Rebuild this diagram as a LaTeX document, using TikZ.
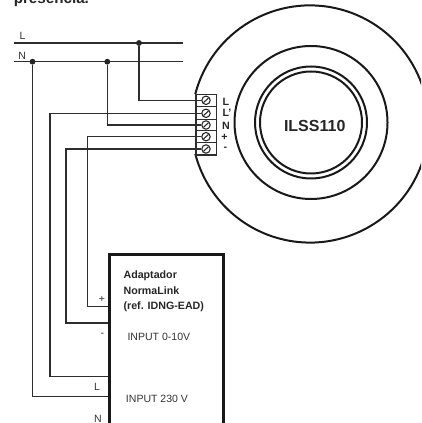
\documentclass[tikz,border=0pt]{standalone}
\usepackage{fontspec}
\setmainfont{Liberation Sans}
\begin{document}
\begin{tikzpicture}[x=0.75pt,y=-0.75pt,
  ink/.style={draw=black!82},
  wire/.style={ink,line width=1pt},
  ring/.style={draw=black!90,line width=1.5pt},
  dotnode/.style={circle,fill=black!85,inner sep=0pt,minimum size=4.4pt},
  lab/.style={inner sep=0pt,font=\fontsize{7.9pt}{9pt}\selectfont,text=black!80},
  blab/.style={inner sep=0pt,font=\fontsize{8pt}{9pt}\selectfont\bfseries,text=black!85},
  tlab/.style={inner sep=0pt,font=\fontsize{8pt}{9pt}\selectfont\bfseries,text=black!85},
  term/.style={ink,line width=0.9pt},
  screw/.style={circle,draw=black!85,line width=0.8pt,minimum size=6.3pt,inner sep=0pt}]
\useasboundingbox (0,0) rectangle (421,423);
\begin{scope}
\clip (0,0) rectangle (421,423);
\node[inner sep=0pt,anchor=base west,font=\fontsize{11.4pt}{12pt}\selectfont\bfseries,text=black!85] (cap) at (13.5,3.5) {presencia.};
% sensor
\draw[ring] (195.3,94) arc[start angle=194.65,end angle=525.35,radius=118.6];
\draw[ring] (311,122.5) circle[radius=76.5];
\draw[ring] (311,122.5) circle[radius=56];
\draw[ring] (311,122.5) circle[radius=51];
\node[inner sep=0pt,font=\fontsize{12pt}{13pt}\selectfont\bfseries,text=black!85] (name) at (314.7,125.7) {ILSS110};
% terminal block
\draw[term] (196,94.3) rectangle (216.7,155);
\foreach \y in {106.7,119.3,130.7,142.3}{\draw[term] (196,\y) -- (216.7,\y);}
\foreach \n/\y in {a/100.3,b/113.3,c/125,d/136.7,e/149}{
  \node[screw] (s\n) at (206,\y) {};
  \draw[black!85,line width=0.8pt] (203.6,\y+2.2) -- (208.4,\y-2.2);
}
\node[tlab] (tL) at (226,101.7) {L};
\node[tlab] (tLp) at (227,113) {L'};
\node[tlab] (tN) at (226,125.7) {N};
\node[tlab] (tP) at (224.5,137) {+};
\node[tlab] (tM) at (225.5,149) {-};
% mains
\coordinate (L0) at (14,43); \coordinate (L1) at (182.7,43);
\coordinate (N0) at (14,61.7); \coordinate (N1) at (182.7,61.7);
\draw[wire] (L0) -- (L1);
\draw[wire] (N0) -- (N1);
\node[lab] (lL) at (22.5,36) {L};
\node[lab] (lN) at (22.3,55.5) {N};
\node[dotnode] (dL) at (139,43) {};
\node[dotnode] (dN1) at (107.3,61.7) {};
\node[dotnode] (dN2) at (32.5,61.7) {};
% adapter
\draw[draw=black!90,line width=2.3pt] (109.3,423) -- (109.3,254.2) -- (223.5,254.2) -- (223.5,423);
\node[blab,anchor=base west] (a1) at (123.3,278.7) {Adaptador};
\node[blab,anchor=base west] (a2) at (123.3,294) {NormaLink};
\node[blab,anchor=base west] (a3) at (123.3,309) {(ref. IDNG-EAD)};
\node[lab,anchor=base west] (i1) at (127.3,340) {INPUT 0-10V};
\node[lab,anchor=base west] (i2) at (125.7,402) {INPUT 230 V};
\node[lab] (pl) at (102,299) {+};
\node[lab] (mi) at (102.3,335) {-};
\node[lab] (la) at (97,387) {L};
\node[lab] (na) at (98,419) {N};
% wires
\draw[wire] (dL) -- (139,100.3) -- (sa);
\draw[wire] (dN1) -- (107.3,125) -- (sc);
\draw[wire] (dN2) -- (32.5,396.7) -- (108,396.7);
\draw[wire] (sb) -- (50,113.3) -- (50,376.7) -- (108,376.7);
\draw[wire] (sd) -- (87.7,136.7) -- (87.7,306.7) -- (108,306.7);
\draw[wire] (se) -- (66,149) -- (66,323) -- (108,323);
\end{scope}
\end{tikzpicture}
\end{document}
